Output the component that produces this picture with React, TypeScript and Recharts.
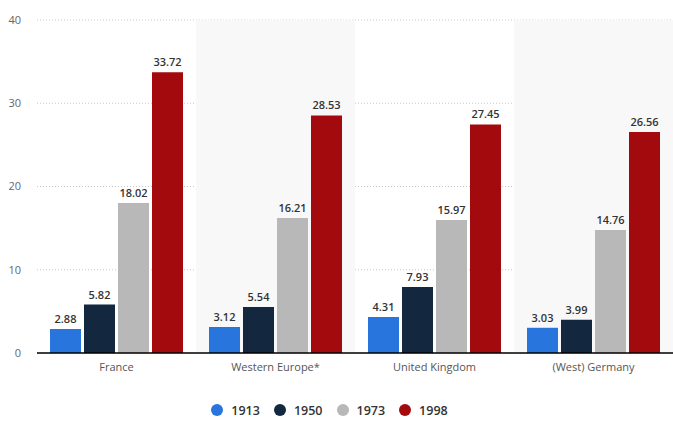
import React from 'react'
import {
  BarChart, Bar, XAxis, YAxis, CartesianGrid, Legend, LabelList, ReferenceArea,
} from 'recharts'

const categories = ['France', 'Western Europe*', 'United Kingdom', '(West) Germany']
const years = ['1913', '1950', '1973', '1998']
const values1913 = [2.88, 3.12, 4.31, 3.03]
const values1950 = [5.82, 5.54, 7.93, 3.99]
const values1973 = [18.02, 16.21, 15.97, 14.76]
const values1998 = [33.72, 28.53, 27.45, 26.56]
const yTicks = [0, 10, 20, 30, 40]
const shadedCategories = ['Western Europe*', '(West) Germany']

const colors = ['#2876dd', '#13273f', '#b8b8b8', '#a20a0e']
const FONT = '"Open Sans", "DejaVu Sans", sans-serif'

const data = categories.map((name, i) => ({
  name,
  y1913: values1913[i],
  y1950: values1950[i],
  y1973: values1973[i],
  y1998: values1998[i],
}))

function LegendContent() {
  return (
    <div style={{ display: 'flex', justifyContent: 'center', alignItems: 'center', height: 20, paddingRight: 14, fontFamily: FONT }}>
      {years.map((y, i) => (
        <div key={y} style={{ display: 'flex', alignItems: 'center', marginRight: i < years.length - 1 ? 14 : 0 }}>
          <span style={{ width: 12, height: 12, borderRadius: '50%', background: colors[i], display: 'inline-block' }} />
          <span style={{ marginLeft: 8, fontSize: 12.5, fontWeight: 600, color: '#333' }}>{y}</span>
        </div>
      ))}
    </div>
  )
}

export default function App() {
  const fmt = (v: any) => (typeof v === 'number' ? v.toFixed(2) : v)
  return (
    <div style={{ position: 'absolute', left: 0, top: 0, width: 673, height: 427, background: '#fff' }}>
      <BarChart
        width={673}
        height={427}
        data={data}
        margin={{ top: 20, right: 0, left: 0, bottom: 7 }}
        barCategoryGap={13}
        barGap={3}
      >
        {shadedCategories.map((c) => (
          <ReferenceArea key={c} x1={c} x2={c} fill="#f8f8f8" fillOpacity={1} stroke="none" />
        ))}
        <CartesianGrid vertical={false} stroke="#c8c8c8" strokeDasharray="1 2" />
        <XAxis
          dataKey="name"
          height={47}
          tickLine={false}
          tickSize={0}
          tickMargin={10}
          axisLine={{ stroke: '#000', strokeWidth: 1.5 }}
          tick={{ fontSize: 11, fill: '#555', fontFamily: FONT }}
        />
        <YAxis
          width={37}
          domain={[0, 40]}
          ticks={yTicks}
          axisLine={false}
          tickLine={false}
          tickSize={0}
          tickMargin={16}
          tick={{ fontSize: 11, fill: '#666', fontFamily: FONT }}
        />
        <Legend verticalAlign="bottom" height={20} content={<LegendContent />} />
        {['y1913', 'y1950', 'y1973', 'y1998'].map((k, i) => (
          <Bar key={k} dataKey={k} name={years[i]} fill={colors[i]} isAnimationActive={false}>
            <LabelList
              dataKey={k}
              position="top"
              offset={6}
              formatter={fmt}
              style={{ fontSize: 11, fontWeight: 600, fill: '#333', fontFamily: FONT }}
            />
          </Bar>
        ))}
      </BarChart>
    </div>
  )
}
